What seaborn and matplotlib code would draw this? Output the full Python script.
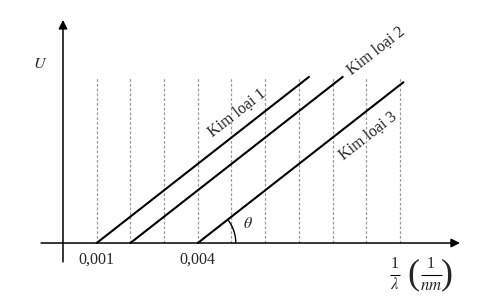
import numpy as np
import pandas as pd
import matplotlib
matplotlib.use("Agg")
import matplotlib.pyplot as plt
import seaborn as sns

sns.set_theme(style="white")
plt.rcParams['font.family'] = ['Liberation Serif', 'DejaVu Serif']
plt.rcParams['mathtext.fontset'] = 'stix'

# ---- data ----
metals = ['Kim loại 1', 'Kim loại 2', 'Kim loại 3']
x_start = [0.001, 0.002, 0.004]      # threshold 1/lambda (1/nm)
x_end = [0.0073, 0.0083, 0.0101]
u_end = [4.93, 4.93, 4.77]
grid_x = [0.001, 0.002, 0.003, 0.004, 0.005, 0.006, 0.007, 0.008, 0.009, 0.010]
grid_top = 4.9
tick_vals = [0.001, 0.004]
tick_labels = ['0,001', '0,004']

rows = []
for m, xs, xe, ue in zip(metals, x_start, x_end, u_end):
    rows.append({'metal': m, 'x': xs, 'U': 0.0})
    rows.append({'metal': m, 'x': xe, 'U': ue})
df = pd.DataFrame(rows)

fig = plt.figure(figsize=(4.86, 3.0), dpi=100)
ax = fig.add_axes([0, 0, 1, 1])
ax.set_xlim(-0.001869, 0.012552)
ax.set_ylim(-1.691, 7.211)
ax.axis('off')

# dashed verticals
ax.vlines(grid_x, 0, grid_top, colors='#9a9a9a', linestyles=(0, (2.2, 1.6)), linewidth=0.9, zorder=1)

# main lines
sns.lineplot(data=df, x='x', y='U', hue='metal', units='metal', estimator=None, sort=False,
             palette=['black'] * 3, linewidth=1.5, legend=False, ax=ax, zorder=3)

# axes arrows
ap = dict(arrowstyle='-|>', lw=1.1, color='black', mutation_scale=13, shrinkA=0, shrinkB=0)
ax.annotate('', xy=(0.01178, 0), xytext=(-0.00065, 0), arrowprops=ap, zorder=4)
ax.annotate('', xy=(0, 6.62), xytext=(0, -0.56), arrowprops=ap, zorder=4)

# angle arc at Kim loai 3 threshold
t = np.linspace(0, np.deg2rad(38), 40)
r_px = 38 / 33.7
ax.plot(x_start[2] + r_px * 0.001 * np.cos(t), r_px * np.sin(t), color='black', lw=1.0)
ax.text(0.00549, 0.55, r'$\theta$', fontsize=11.5, ha='center', va='center')

# tick labels
for v, lab in zip(tick_vals, tick_labels):
    ax.text(v, -0.5, lab, fontsize=11.5, ha='center', va='center')

ax.text(-0.00068, 5.3, r'$U$', fontsize=11.5, ha='center', va='center')

# line labels
lab_pos = [(0.00516, 3.86), (0.00929, 5.70), (0.00905, 3.20)]
for m, (lx, ly) in zip(metals, lab_pos):
    ax.text(lx, ly, m, fontsize=11.5, rotation=38, rotation_mode='anchor',
            ha='center', va='center')

# axis unit label: 1/lambda (1/nm)
fs = 11.5
ax.text(0.009852, -0.62, '1', fontsize=fs, ha='center', va='center')
ax.hlines(-0.95, 0.009703, 0.010000, colors='black', lw=0.8)
ax.text(0.009852, -1.25, r'$\lambda$', fontsize=fs + 0.5, ha='center', va='center')
ax.text(0.010400, -0.95, '(', fontsize=26, ha='center', va='center')
ax.text(0.010920, -0.62, '1', fontsize=fs, ha='center', va='center')
ax.hlines(-0.95, 0.010623, 0.011246, colors='black', lw=0.8)
ax.text(0.010920, -1.27, r'$nm$', fontsize=fs + 0.5, ha='center', va='center')
ax.text(0.011390, -0.95, ')', fontsize=26, ha='center', va='center')

fig.savefig('out.png', dpi=100)
